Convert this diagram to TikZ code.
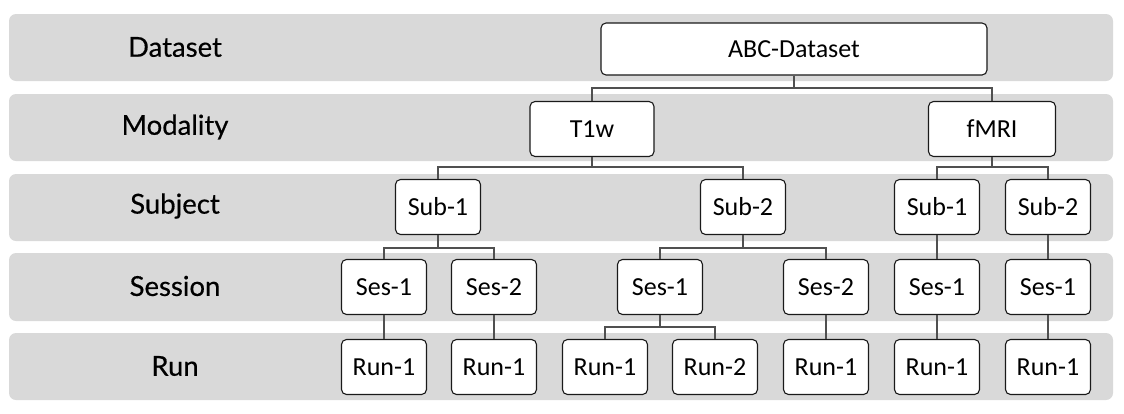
\documentclass[tikz,border=0pt]{standalone}
\usepackage{fontspec}
\setmainfont{Carlito}
\newfontfamily\labfont[FakeBold=0.4]{Lato}
\definecolor{bandgray}{HTML}{D9D9D9}
\definecolor{linegray}{HTML}{505050}
\definecolor{boxline}{HTML}{1A1A1A}
\tikzset{
  band/.style={fill=bandgray, rounded corners=7pt},
  lab/.style={font=\labfont\fontsize{27.5}{32}\selectfont, text=black},
  box/.style={draw=boxline, fill=white, rounded corners=5pt, line width=1.1pt,
    minimum width=85pt, minimum height=55pt, inner sep=0pt,
    font=\fontsize{26}{30}\selectfont},
  conn/.style={draw=linegray, line width=1.4pt}
}
\begin{document}
\begin{tikzpicture}[x=1pt, y=-1pt]
\useasboundingbox (0,0) rectangle (1124,413);
% bands
\fill[band] (9,14) rectangle (1113,81);
\fill[band] (9,94) rectangle (1113,161);
\fill[band] (9,174) rectangle (1113,241);
\fill[band] (9,253) rectangle (1113,321);
\fill[band] (9,333) rectangle (1113,400);
% labels
\node[lab] (ldataset) at (175,47) {Dataset};
\node[lab] (lmodality) at (175,127) {Modality};
\node[lab] (lsubject) at (175,206) {Subject};
\node[lab] (lsession) at (175,286) {Session};
\node[lab] (lrun) at (175,366) {Run};
% boxes
\node[box, minimum width=386pt, minimum height=52pt] (abc) at (794,49) {ABC-Dataset};
\node[box, minimum width=124pt] (t1w) at (592,129) {T1w};
\node[box, minimum width=127pt] (fmri) at (992,129) {fMRI};
\node[box] (s1) at (438,207) {Sub-1};
\node[box] (s2) at (743,207) {Sub-2};
\node[box] (fs1) at (937,207) {Sub-1};
\node[box] (fs2) at (1048,207) {Sub-2};
\node[box] (e1) at (384,287) {Ses-1};
\node[box] (e2) at (494,287) {Ses-2};
\node[box] (e3) at (660,287) {Ses-1};
\node[box] (e4) at (826,287) {Ses-2};
\node[box] (fe1) at (937,287) {Ses-1};
\node[box] (fe2) at (1048,287) {Ses-1};
\node[box] (r1) at (384,367) {Run-1};
\node[box] (r2) at (494,367) {Run-1};
\node[box] (r3) at (605,367) {Run-1};
\node[box] (r4) at (715,367) {Run-2};
\node[box] (r5) at (826,367) {Run-1};
\node[box] (r6) at (937,367) {Run-1};
\node[box] (r7) at (1048,367) {Run-1};
% junction levels
\coordinate (y1) at (0,88);
\coordinate (y2) at (0,167);
\coordinate (y3) at (0,248);
\coordinate (y4) at (0,327);
% connectors
\draw[conn] (abc.south) -- (abc.south |- y1);
\draw[conn] (t1w.north) |- (fmri.north |- y1) -- (fmri.north);
\draw[conn] (t1w.south) -- (t1w.south |- y2);
\draw[conn] (s1.north) |- (s2.north |- y2) -- (s2.north);
\draw[conn] (fmri.south) -- (fmri.south |- y2);
\draw[conn] (fs1.north) |- (fs2.north |- y2) -- (fs2.north);
\draw[conn] (s1.south) -- (s1.south |- y3);
\draw[conn] (e1.north) |- (e2.north |- y3) -- (e2.north);
\draw[conn] (s2.south) -- (s2.south |- y3);
\draw[conn] (e3.north) |- (e4.north |- y3) -- (e4.north);
\draw[conn] (fs1.south) -- (fe1.north);
\draw[conn] (fs2.south) -- (fe2.north);
\draw[conn] (e1.south) -- (r1.north);
\draw[conn] (e2.south) -- (r2.north);
\draw[conn] (e3.south) -- (e3.south |- y4);
\draw[conn] (r3.north) |- (r4.north |- y4) -- (r4.north);
\draw[conn] (e4.south) -- (r5.north);
\draw[conn] (fe1.south) -- (r6.north);
\draw[conn] (fe2.south) -- (r7.north);
\end{tikzpicture}
\end{document}
